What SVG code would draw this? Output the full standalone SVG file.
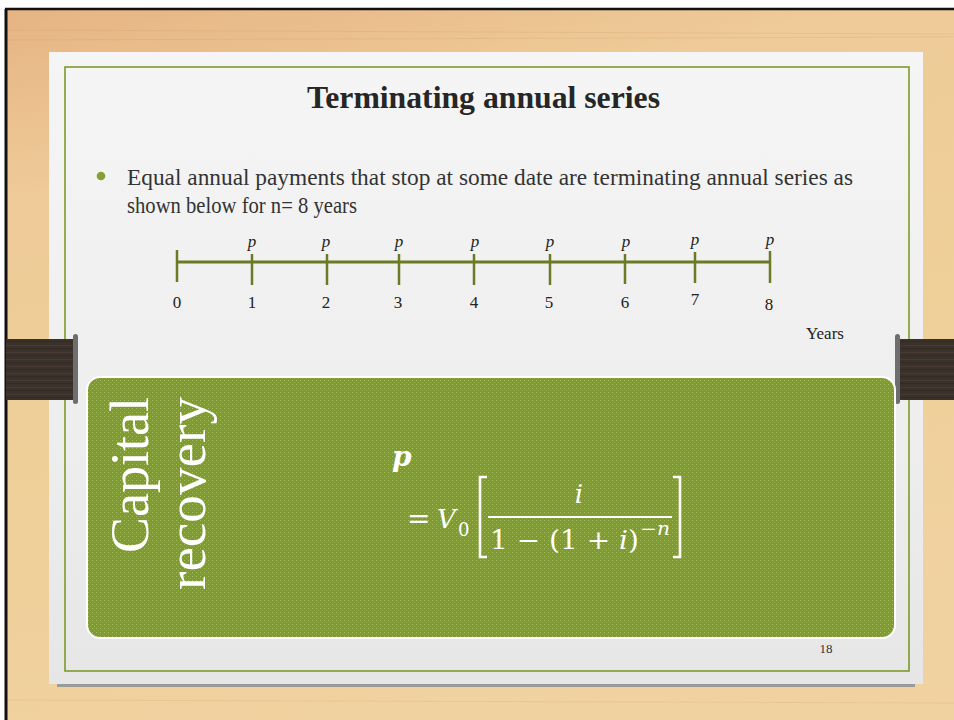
<svg xmlns="http://www.w3.org/2000/svg" width="954" height="720" viewBox="0 0 954 720">
<defs>
<linearGradient id="wood" x1="0" y1="0" x2="0.3" y2="1">
<stop offset="0" stop-color="#e6b483"/>
<stop offset="0.25" stop-color="#eecb98"/>
<stop offset="0.6" stop-color="#efcf98"/>
<stop offset="1" stop-color="#f0d2a0"/>
</linearGradient>
<linearGradient id="paper" x1="0" y1="0" x2="0" y2="1">
<stop offset="0" stop-color="#f5f5f5"/>
<stop offset="0.6" stop-color="#eeeeee"/>
<stop offset="1" stop-color="#e6e6e6"/>
</linearGradient>
<pattern id="dots" width="4" height="4" patternUnits="userSpaceOnUse">
<rect width="4" height="4" fill="#7f9b2e"/>
<rect x="0" y="0" width="1" height="1" fill="#a9bf6a"/>
<rect x="2" y="2" width="1" height="1" fill="#96ae52"/>
</pattern>
<pattern id="grain" width="60" height="7" patternUnits="userSpaceOnUse">
<rect width="60" height="7" fill="#3b312b"/>
<rect y="2" width="60" height="1" fill="#463a33"/>
<rect y="5" width="60" height="1" fill="#342b26"/>
</pattern>
<style>
.serif{font-family:"Liberation Serif","Times New Roman",serif}
.num{font-family:"Liberation Serif",serif;font-size:17px;fill:#222;text-anchor:middle}
.pl{font-family:"Liberation Serif",serif;font-style:italic;font-size:17px;fill:#222;text-anchor:middle}
.tick{stroke:#6b7b24;stroke-width:2.5}
.mw{font-family:"DejaVu Serif","Liberation Serif",serif;fill:#ffffff}
.vt{font-family:"Liberation Serif",serif;font-size:54px;fill:#ffffff}
</style>
</defs>
<g id="background">
<rect x="0" y="0" width="954" height="720" fill="#ffffff"/>
<rect x="6" y="9" width="948" height="711" fill="url(#wood)"/>
<g opacity="0.12" stroke="#b07a40" stroke-width="1">
<line x1="6" y1="30" x2="954" y2="34"/>
<line x1="6" y1="40" x2="954" y2="37"/>
<line x1="6" y1="700" x2="954" y2="703"/>
</g>
<line x1="6" y1="9" x2="6" y2="720" stroke="#111" stroke-width="3"/>
<line x1="5" y1="9" x2="954" y2="9" stroke="#111" stroke-width="2.5"/>
</g>
<g id="paper-sheet">
<rect x="57" y="683" width="858" height="4" fill="#9a9a9a"/>
<rect x="49" y="52" width="874" height="632" fill="url(#paper)"/>
<rect x="65" y="67" width="844" height="604" fill="none" stroke="#7d9a2c" stroke-width="1.6"/>
</g>
<g id="clips">
<rect x="6" y="339" width="71" height="61" fill="url(#grain)"/>
<rect x="73" y="334" width="5" height="70" rx="2.5" fill="#6e6e6e"/>
<rect x="897" y="339" width="57" height="61" fill="url(#grain)"/>
<rect x="895" y="334" width="5" height="70" rx="2.5" fill="#6e6e6e"/>
</g>
<g id="title">
<text class="serif" x="307" y="108" font-weight="bold" font-size="31" fill="#262626" textLength="353" lengthAdjust="spacingAndGlyphs">Terminating annual series</text>
</g>
<g id="bullet-text">
<circle cx="101" cy="176" r="4.3" fill="#86a033"/>
<text class="serif" x="127" y="185" font-size="22.5" fill="#333" textLength="726" lengthAdjust="spacingAndGlyphs">Equal annual payments that stop at some date are terminating annual series as</text>
<text class="serif" x="127" y="213" font-size="22.5" fill="#333" textLength="230" lengthAdjust="spacingAndGlyphs">shown below for n= 8 years</text>
</g>
<g id="timeline">
<line x1="177" y1="262" x2="770" y2="262" stroke="#6b7b24" stroke-width="3"/>
<line class="tick" x1="177" y1="250" x2="177" y2="282"/>
<line class="tick" x1="252" y1="254" x2="252" y2="285"/>
<line class="tick" x1="327" y1="254" x2="327" y2="285"/>
<line class="tick" x1="399" y1="254" x2="399" y2="285"/>
<line class="tick" x1="474" y1="254" x2="474" y2="285"/>
<line class="tick" x1="550" y1="254" x2="550" y2="285"/>
<line class="tick" x1="625" y1="254" x2="625" y2="284"/>
<line class="tick" x1="695" y1="252" x2="695" y2="283"/>
<line class="tick" x1="770" y1="251" x2="770" y2="283"/>
<text class="num" x="177" y="308">0</text>
<text class="num" x="252" y="308">1</text>
<text class="num" x="326" y="308">2</text>
<text class="num" x="398" y="308">3</text>
<text class="num" x="474" y="308">4</text>
<text class="num" x="549" y="308">5</text>
<text class="num" x="625" y="308">6</text>
<text class="num" x="695" y="305">7</text>
<text class="num" x="769" y="310">8</text>
<text class="pl" x="252" y="247">p</text>
<text class="pl" x="326" y="247">p</text>
<text class="pl" x="399" y="247">p</text>
<text class="pl" x="475" y="247">p</text>
<text class="pl" x="550" y="247">p</text>
<text class="pl" x="626" y="247">p</text>
<text class="pl" x="695" y="245">p</text>
<text class="pl" x="770" y="245">p</text>
<text class="serif" x="806" y="339" font-size="17" fill="#222">Years</text>
</g>
<g id="capital-recovery-box">
<rect x="87" y="377" width="808" height="261" rx="13" fill="url(#dots)" stroke="#ffffff" stroke-width="2"/>
<text class="vt" transform="translate(148,553) rotate(-90)" textLength="156" lengthAdjust="spacingAndGlyphs">Capital</text>
<text class="vt" transform="translate(205,590) rotate(-90)" textLength="193" lengthAdjust="spacingAndGlyphs">recovery</text>
</g>
<g id="formula">
<text class="mw" x="392" y="466" font-size="28" font-style="italic" font-weight="bold">p</text>
<text class="mw" x="407" y="528" font-size="28">=</text>
<text class="mw" x="437" y="528" font-size="26" font-style="italic">V</text>
<text class="mw" x="458" y="536" font-size="18">0</text>
<path d="M487 477 H480 V557 H487" fill="none" stroke="#ffffff" stroke-width="2.6"/>
<path d="M673 477 H680 V557 H673" fill="none" stroke="#ffffff" stroke-width="2.6"/>
<text class="mw" x="579" y="503" font-size="26" font-style="italic" text-anchor="middle">i</text>
<line x1="488" y1="517" x2="672" y2="517" stroke="#ffffff" stroke-width="2"/>
<text class="mw" x="490" y="549" font-size="26" textLength="149" lengthAdjust="spacingAndGlyphs">1 − (1 + <tspan font-style="italic">i</tspan>)</text>
<text class="mw" x="640" y="535" font-size="18" textLength="30" lengthAdjust="spacingAndGlyphs">−<tspan font-style="italic">n</tspan></text>
</g>
<g id="page-number">
<text class="serif" x="826" y="653" text-anchor="middle" font-size="13" fill="#333">18</text>
</g>
</svg>
